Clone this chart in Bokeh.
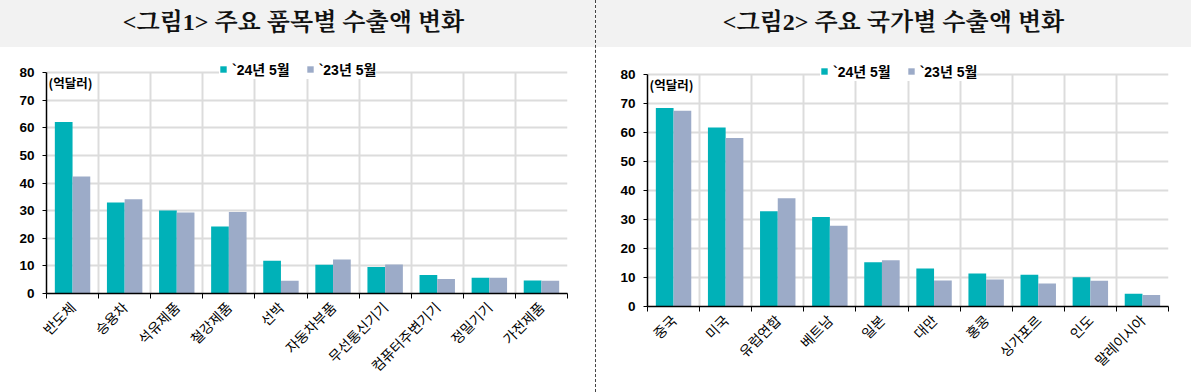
import numpy as np
from math import pi
from bokeh.plotting import figure
from bokeh.layouts import row, column
from bokeh.models import (Range1d, FixedTicker, SingleIntervalTicker, Label, Div, Legend)
from bokeh.embed import file_html
from bokeh.resources import INLINE

# ---- data ----
items = ["반도체", "승용차", "석유제품", "철강제품", "선박", "자동차부품",
         "무선통신기기", "컴퓨터주변기기", "정밀기기", "가전제품"]
items_24 = [62.2, 33.0, 30.1, 24.3, 11.9, 10.4, 9.6, 6.7, 5.7, 4.7]
items_23 = [42.4, 34.2, 29.4, 29.5, 4.6, 12.3, 10.5, 5.3, 5.7, 4.6]

countries = ["중국", "미국", "유럽연합", "베트남", "일본", "대만",
             "홍콩", "싱가포르", "인도", "말레이시아"]
countries_24 = [68.5, 61.8, 32.9, 30.9, 15.3, 13.1, 11.4, 11.0, 10.1, 4.4]
countries_23 = [67.6, 58.2, 37.4, 27.9, 16.0, 9.0, 9.3, 7.9, 8.9, 4.0]

series_labels = ["`24년 5월", "`23년 5월"]
titles = ["&lt;그림1&gt; 주요 품목별 수출액 변화", "&lt;그림2&gt; 주요 국가별 수출액 변화"]
unit_label = "(억달러)"
y_max = 80

TEAL = "#00B1B8"
GRAY = "#9CABC8"
GRID = "#DCDCDC"
KFONT = "Noto Sans CJK KR"
Y_VIEW_TOP = 87  # extra head-room above the axis so the legend is not clipped


def make_chart(cats, v24, v23, px_per_unit, left_b, right_b, axis_top_px, bottom_px, legend_cy):
    n = len(cats)
    centers = np.arange(n) + 0.5
    frame_h = int(round(Y_VIEW_TOP * px_per_unit))
    top_b = int(round(bottom_px - frame_h - 47))
    p = figure(frame_width=521, frame_height=frame_h,
               x_range=Range1d(0, n), y_range=Range1d(0, Y_VIEW_TOP),
               output_backend="svg", toolbar_location=None,
               min_border_left=left_b, min_border_right=right_b,
               min_border_top=top_b, min_border_bottom=5)
    p.outline_line_color = None
    p.background_fill_color = "white"
    p.border_fill_color = "white"

    r1 = p.vbar(x=centers - 0.17, top=v24, width=0.34, fill_color=TEAL, line_color=None)
    r2 = p.vbar(x=centers + 0.17, top=v23, width=0.34, fill_color=GRAY, line_color=None)

    # x axis: labels at category centres, ticks/grid at boundaries
    xa = p.xaxis[0]
    xa.ticker = FixedTicker(ticks=list(centers), minor_ticks=list(range(n + 1)))
    xa.major_label_overrides = {float(c): name for c, name in zip(centers, cats)}
    xa.major_label_orientation = pi / 4
    xa.major_tick_line_color = None
    xa.minor_tick_line_color = "black"
    xa.minor_tick_out = 5
    xa.minor_tick_in = 0
    xa.axis_line_color = "black"
    xa.axis_line_width = 1.5
    xa.major_label_text_font = KFONT
    xa.major_label_text_font_size = "14px"
    xa.major_label_text_color = "black"
    xa.major_label_standoff = 5

    ya = p.yaxis[0]
    ya.ticker = SingleIntervalTicker(interval=10)
    ya.bounds = (0, y_max)
    ya.minor_tick_line_color = None
    ya.major_tick_out = 4
    ya.major_tick_in = 0
    ya.axis_line_color = "black"
    ya.axis_line_width = 1.5
    ya.major_label_text_font = "Liberation Sans"
    ya.major_label_text_font_style = "bold"
    ya.major_label_text_font_size = "13.5px"
    ya.major_label_text_color = "black"
    ya.major_label_standoff = 8

    p.xgrid.grid_line_color = None
    p.ygrid.grid_line_color = GRID
    p.ygrid.grid_line_width = 2
    try:
        p.xgrid.cross_bounds = (0, y_max)
        p.xgrid.minor_grid_line_color = GRID
        p.xgrid.minor_grid_line_width = 2
    except Exception:
        p.xgrid.minor_grid_line_color = None
        b = np.arange(n + 1)
        p.segment(x0=b, x1=b, y0=np.zeros(n + 1), y1=np.full(n + 1, y_max),
                  line_color=GRID, line_width=2, level="underlay")

    legend = Legend(items=[(series_labels[0], [r1]), (series_labels[1], [r2])],
                    orientation="horizontal", location=(173, bottom_px - (legend_cy + 7.5)),
                    glyph_width=8, glyph_height=8, label_standoff=5, spacing=16,
                    padding=9, margin=0, border_line_color=None,
                    background_fill_color="white", background_fill_alpha=1.0,
                    label_text_font="Liberation Sans, Noto Sans CJK KR",
                    label_text_font_style="bold",
                    label_text_font_size="14px", label_text_color="black",
                    label_height=14, label_width=50)
    p.add_layout(legend, "center")

    p.add_layout(Label(x=0, y=y_max, x_offset=2, y_offset=-10,
                       text=unit_label, text_font=KFONT, text_font_style="bold",
                       text_font_size="12.5px", text_baseline="middle",
                       text_color="black"))
    return p


def title_div(text, width, pad_right):
    html = (f"<div style=\"width:{width}px;text-align:center;"
            "font-family:'Liberation Serif','Noto Serif CJK KR','Noto Sans CJK KR',serif;"
            "font-weight:bold;font-size:24px;line-height:30px;color:#111;padding-top:7px;"
            f"padding-right:{pad_right}px;box-sizing:border-box;\">{text}</div>")
    return Div(text=html, width=width, height=47,
               styles={"background-color": "#F2F2F2", "margin": "0", "padding": "0"})


p1 = make_chart(items, items_24, items_23, 221 / 80, 46, 28, 72, 293, 71)
p2 = make_chart(countries, countries_24, countries_23, 232 / 80, 51, 23, 74, 306, 73)

sep = Div(text="", width=1, height=392,
          styles={"border-left": "1px dashed #444444", "margin": "0"})

layout = row(column(title_div(titles[0], 595, 8), p1), sep,
             column(title_div(titles[1], 595, 0), p2))

open("out.html", "w").write(file_html(layout, INLINE))
